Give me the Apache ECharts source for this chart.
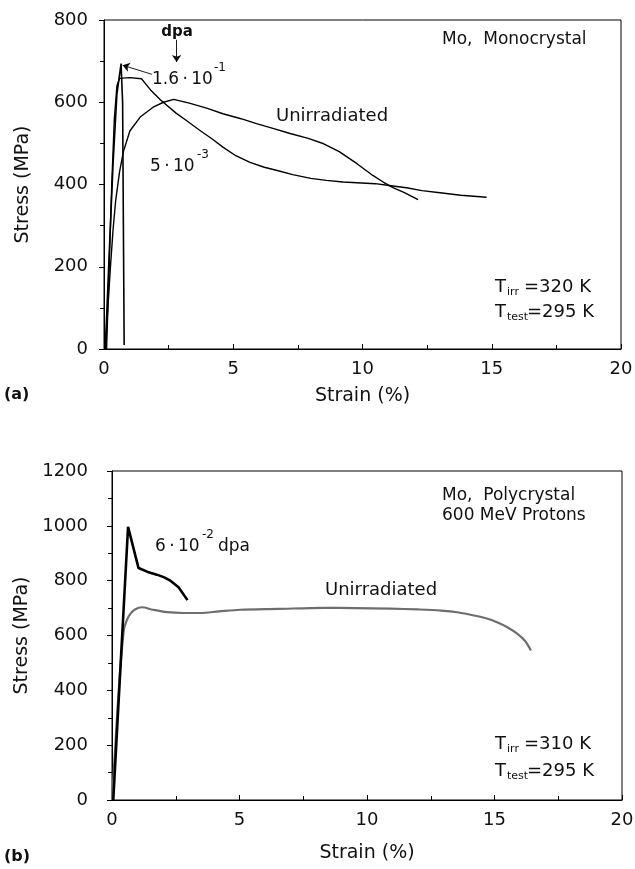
<!DOCTYPE html>
<html>
<head>
<meta charset="utf-8">
<script src="https://cdn.jsdelivr.net/npm/echarts@6/dist/echarts.min.js"></script>
<style>
  html, body { margin: 0; padding: 0; background: #fff; }
  #main { width: 635px; height: 869px; }
</style>
</head>
<body>
<div id="main"></div>
<script>
// (a) Mo monocrystal, strain % / stress MPa
const monoUnirr = [
  [0.05, 0], [0.15, 100], [0.25, 200], [0.35, 290], [0.45, 360], [0.6, 430], [0.75, 480],
  [1.0, 530], [1.4, 564], [1.9, 588], [2.3, 600], [2.7, 607], [3.3, 598], [4.0, 585],
  [4.6, 572], [5.3, 560], [5.9, 548], [6.5, 537], [7.2, 524], [7.9, 512], [8.5, 499],
  [9.1, 480], [9.8, 450], [10.4, 422], [10.8, 406], [11.2, 392], [11.6, 381], [12.15, 363]
];
const mono5e3 = [
  [0.1, 0], [0.2, 200], [0.3, 400], [0.4, 560], [0.5, 640], [0.6, 658], [1.0, 660],
  [1.45, 657], [1.8, 630], [2.2, 605], [2.8, 573], [3.2, 555], [3.7, 532], [4.2, 510],
  [4.6, 491], [5.1, 470], [5.65, 454], [6.2, 442], [6.7, 434], [7.3, 424], [8.0, 415],
  [8.6, 410], [9.25, 406], [10.5, 402], [11.1, 397], [11.7, 392], [12.3, 385],
  [13.0, 380], [13.8, 374], [14.8, 369]
];
const mono16e1 = [
  [0.05, 0], [0.2, 230], [0.35, 450], [0.5, 620], [0.66, 694], [0.72, 600], [0.75, 300], [0.78, 10]
];

// (b) Mo polycrystal, 600 MeV protons
const polyIrr = [
  [0.05, 0], [0.63, 996], [1.04, 846], [1.4, 832], [1.76, 822], [2.05, 812], [2.29, 800],
  [2.61, 776], [2.96, 729]
];
const polyUnirr = [
  [0, 0], [0.1, 150], [0.25, 380], [0.46, 618], [0.6, 660], [0.72, 679], [0.9, 695],
  [1.18, 703], [1.6, 694], [2.16, 685], [2.8, 682], [3.46, 682], [4.2, 688], [5.03, 694],
  [6.5, 697], [8.3, 701], [9.5, 700], [10.9, 698], [12.0, 695], [12.9, 691], [13.6, 684],
  [14.2, 673], [14.7, 662], [15.1, 648], [15.5, 630], [15.9, 606], [16.2, 580], [16.43, 545]
];

const strainTicks = [0, 20, 5];
const stressTicksA = [0, 800, 200];
const stressTicksB = [0, 1200, 200];

const FONT = "DejaVu Sans";
const ink = "#111";
const TS = "\u2009";

function xAx(grid, gap) {
  return {
    type: "value", gridIndex: grid,
    min: strainTicks[0], max: strainTicks[1], interval: strainTicks[2],
    name: "Strain (%)", nameLocation: "middle", nameGap: gap,
    nameTextStyle: { fontFamily: FONT, fontSize: 19, color: ink },
    axisLine: { show: true, onZero: false, lineStyle: { color: "#000", width: 1 } },
    axisTick: { show: true, inside: true, length: 5, lineStyle: { color: "#000" } },
    minorTick: { show: true, splitNumber: 2, length: 4, lineStyle: { color: "#000" } },
    axisLabel: { fontFamily: FONT, fontSize: 18, color: ink, margin: 11, formatter: v => String(v) },
    splitLine: { show: false }
  };
}
function yAx(grid, t, gap, margin) {
  return {
    type: "value", gridIndex: grid,
    min: t[0], max: t[1], interval: t[2],
    name: "Stress (MPa)", nameLocation: "middle", nameGap: gap,
    nameTextStyle: { fontFamily: FONT, fontSize: 19, color: ink },
    axisLine: { show: true, onZero: false, lineStyle: { color: "#000", width: 1 } },
    axisTick: { show: true, inside: false, length: 5, lineStyle: { color: "#000" } },
    minorTick: { show: true, splitNumber: 2, length: 4, lineStyle: { color: "#000" } },
    axisLabel: { fontFamily: FONT, fontSize: 18, color: ink, margin: margin, formatter: v => String(v) },
    splitLine: { show: false }
  };
}

function txt(x, y, s, size, opts) {
  return {
    type: "text", x: x, y: y, silent: true,
    style: Object.assign({ text: s, fontFamily: FONT, fontSize: size, fill: ink,
      align: "left", verticalAlign: "middle" }, opts || {})
  };
}

const chart = echarts.init(document.getElementById("main"));
chart.setOption({
  backgroundColor: "#fff",
  animation: false,
  grid: [
    { left: 104, top: 20, width: 517, height: 329, show: true, borderColor: "#000", borderWidth: 1, outerBoundsMode: "none" },
    { left: 112, top: 471, width: 510, height: 329, show: true, borderColor: "#000", borderWidth: 1, outerBoundsMode: "none" }
  ],
  xAxis: [xAx(0, 38), xAx(1, 44)],
  yAxis: [yAx(0, stressTicksA, 71, 16), yAx(1, stressTicksB, 79, 24)],
  series: [
    { type: "line", xAxisIndex: 0, yAxisIndex: 0, data: monoUnirr, showSymbol: false,
      lineStyle: { color: "#000", width: 1.4 } },
    { type: "line", xAxisIndex: 0, yAxisIndex: 0, data: mono5e3, showSymbol: false,
      lineStyle: { color: "#000", width: 1.4 } },
    { type: "line", xAxisIndex: 0, yAxisIndex: 0, data: mono16e1, showSymbol: false,
      lineStyle: { color: "#000", width: 1.6 },
      markLine: {
        silent: true, symbol: ["none", "arrow"], symbolSize: 7,
        label: { show: false },
        lineStyle: { color: "#000", width: 0.9, type: "solid" },
        data: [
          [{ coord: [1.85, 668] }, { coord: [0.72, 690] }],
          [{ coord: [2.81, 752] }, { coord: [2.81, 698] }]
        ]
      } },
    { type: "line", xAxisIndex: 1, yAxisIndex: 1, data: polyUnirr, showSymbol: false, smooth: 0.3,
      lineStyle: { color: "#6e6e6e", width: 2.2 } },
    { type: "line", xAxisIndex: 1, yAxisIndex: 1, data: polyIrr, showSymbol: false,
      lineStyle: { color: "#000", width: 2.6 } }
  ],
  graphic: [
    // (a)
    txt(177, 32, "dpa", 15, { align: "center", fontWeight: "bold" }),
    txt(152, 80, "1.6" + TS + "\u00b7" + TS + "10", 17),
    txt(214, 68, "-1", 12),
    txt(150, 167, "5" + TS + "\u00b7" + TS + "10", 17),
    txt(197, 155, "-3", 12),
    txt(276, 116, "Unirradiated", 18),
    txt(442, 40, "Mo,  Monocrystal", 17),
    txt(495, 287, "T", 18), txt(507, 292, "irr", 11), txt(524, 287, "=320 K", 18),
    txt(495, 312, "T", 18), txt(507, 317, "test", 11), txt(527, 312, "=295 K", 18),
    txt(4, 395, "(a)", 16, { fontWeight: "bold" }),
    // (b)
    txt(155, 547, "6" + TS + "\u00b7" + TS + "10", 17),
    txt(202, 535, "-2", 12),
    txt(218, 547, "dpa", 17),
    txt(325, 590, "Unirradiated", 18),
    txt(442, 496, "Mo,  Polycrystal", 17),
    txt(442, 516, "600 MeV Protons", 17),
    txt(495, 744, "T", 18), txt(507, 749, "irr", 11), txt(524, 744, "=310 K", 18),
    txt(495, 771, "T", 18), txt(507, 776, "test", 11), txt(527, 771, "=295 K", 18),
    txt(4, 857, "(b)", 16, { fontWeight: "bold" })
  ]
});
</script>
</body>
</html>
